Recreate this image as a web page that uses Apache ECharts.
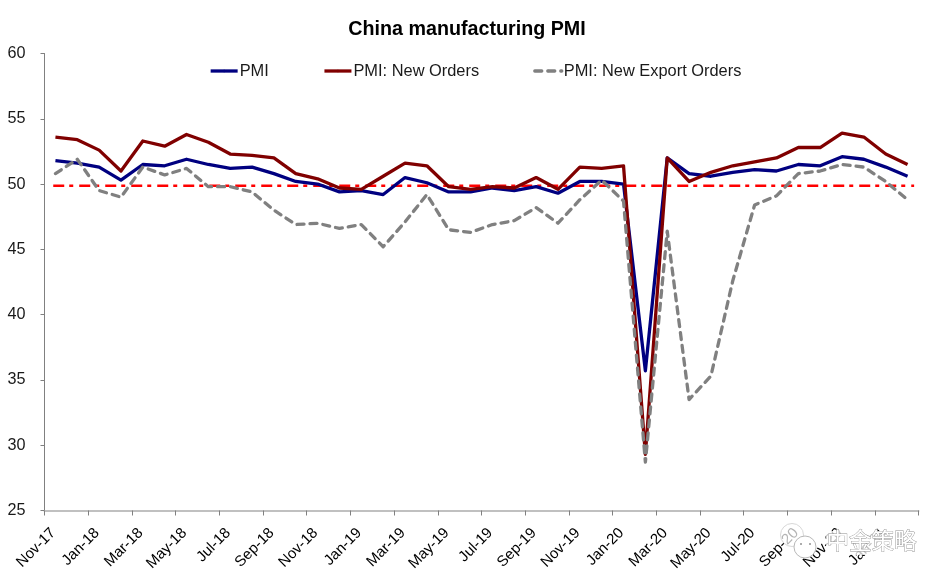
<!DOCTYPE html>
<html><head><meta charset="utf-8">
<style>html,body{margin:0;padding:0;background:#fff}#c{width:946px;height:583px}</style>
<script src="https://cdn.jsdelivr.net/npm/echarts@6/dist/echarts.min.js"></script>
</head><body><div id="c"></div>
<script>
const months = ['Nov-17','Dec-17','Jan-18','Feb-18','Mar-18','Apr-18','May-18','Jun-18','Jul-18','Aug-18','Sep-18','Oct-18','Nov-18','Dec-18','Jan-19','Feb-19','Mar-19','Apr-19','May-19','Jun-19','Jul-19','Aug-19','Sep-19','Oct-19','Nov-19','Dec-19','Jan-20','Feb-20','Mar-20','Apr-20','May-20','Jun-20','Jul-20','Aug-20','Sep-20','Oct-20','Nov-20','Dec-20','Jan-21','Feb-21'];
const pmi = [51.8,51.6,51.3,50.3,51.5,51.4,51.9,51.5,51.2,51.3,50.8,50.2,50.0,49.4,49.5,49.2,50.5,50.1,49.4,49.4,49.7,49.5,49.8,49.3,50.2,50.2,50.0,35.7,52.0,50.8,50.6,50.9,51.1,51.0,51.5,51.4,52.1,51.9,51.3,50.6];
const newOrders = [53.6,53.4,52.6,51.0,53.3,52.9,53.8,53.2,52.3,52.2,52.0,50.8,50.4,49.7,49.6,50.6,51.6,51.4,49.8,49.6,49.8,49.7,50.5,49.6,51.3,51.2,51.4,29.3,52.0,50.2,50.9,51.4,51.7,52.0,52.8,52.8,53.9,53.6,52.3,51.5];
const newExportOrders = [50.8,51.9,49.5,49.0,51.3,50.7,51.2,49.8,49.8,49.4,48.0,46.9,47.0,46.6,46.9,45.2,47.1,49.2,46.5,46.3,46.9,47.2,48.2,47.0,48.8,50.3,48.7,28.7,46.4,33.5,35.3,42.6,48.4,49.1,50.8,51.0,51.5,51.3,50.2,48.8];
const threshold = [[0.4,49.87],[39.8,49.87]];
const yTicks = {min:25,max:60,interval:5};
const font = '"Liberation Sans", Arial, sans-serif';
const chart = echarts.init(document.getElementById('c'),null,{renderer:'canvas'});
function line(name,data,color,extra){
  return {name,type:'line',data,symbol:'none',smooth:false,animation:false,silent:true,
    lineStyle:Object.assign({color,width:3.3,cap:'butt',join:'round'},extra||{}),itemStyle:{color}};
}
chart.setOption({
  animation:false,
  backgroundColor:'#fff',
  title:{text:'China manufacturing PMI',left:462,top:15,textAlign:'center',
    textStyle:{fontFamily:font,fontSize:19.7,fontWeight:'bold',color:'#000'}},
  legend:{data:['PMI','PMI: New Orders','PMI: New Export Orders'],left:204,top:58,itemWidth:27,itemHeight:3,itemGap:54,
    lineStyle:{width:3.3},
    textStyle:{fontFamily:font,fontSize:16.4,color:'#1a1a1a',padding:[0,0,0,-3]}},
  grid:{left:44.5,right:27.5,top:53.5,bottom:72.5,containLabel:false},
  xAxis:[{type:'category',data:months,boundaryGap:true,
    axisLine:{onZero:false,lineStyle:{color:'#c0c0c0',width:2}},
    axisTick:{show:true,interval:1,alignWithLabel:false,length:5,lineStyle:{color:'#808080',width:1}},
    axisLabel:{interval:1,rotate:45,margin:18,padding:[0,3,0,0],hideOverlap:false,fontFamily:font,fontSize:15,color:'#000'},
    splitLine:{show:false}},
   {type:'value',min:0,max:40,show:false,splitLine:{show:false}}],
  yAxis:{type:'value',min:yTicks.min,max:yTicks.max,interval:yTicks.interval,
    axisLine:{show:true,lineStyle:{color:'#808080',width:1}},
    axisTick:{show:true,length:4,lineStyle:{color:'#808080',width:1}},
    axisLabel:{margin:19,fontFamily:font,fontSize:16.2,color:'#1a1a1a'},
    splitLine:{show:false}},
  series:[
    Object.assign(line('Threshold',threshold,'#ff0000',{width:2.4,type:[11,5,4,6]}),{xAxisIndex:1}),
    line('PMI',pmi,'#000080'),
    line('PMI: New Orders',newOrders,'#800000'),
    line('PMI: New Export Orders',newExportOrders,'#808080',{type:[7,6],cap:'round'})
  ],
  graphic:[
    {type:'rect',shape:{x:826,y:531,width:90,height:24},z:98,style:{fill:'rgba(255,255,255,0.75)'}},
    {type:'circle',shape:{cx:792,cy:535,r:11.5},z:99,style:{fill:'rgba(255,255,255,0.7)',stroke:'#d8d8d8',lineWidth:1}},
    {type:'circle',shape:{cx:805,cy:547,r:11},z:99,style:{fill:'#ffffff',stroke:'#b8b8b8',lineWidth:1}},
    {type:'circle',shape:{cx:801,cy:544,r:1},z:100,style:{fill:'#909090'}},
    {type:'circle',shape:{cx:810,cy:544,r:1},z:100,style:{fill:'#909090'}},
    {type:'text',left:826,top:529,z:100,style:{text:'中金策略',fontFamily:'"Noto Sans CJK SC"',fontSize:22.5,fill:'#ffffff',stroke:'#909090',lineWidth:0.8}}
  ]
});
</script></body></html>
